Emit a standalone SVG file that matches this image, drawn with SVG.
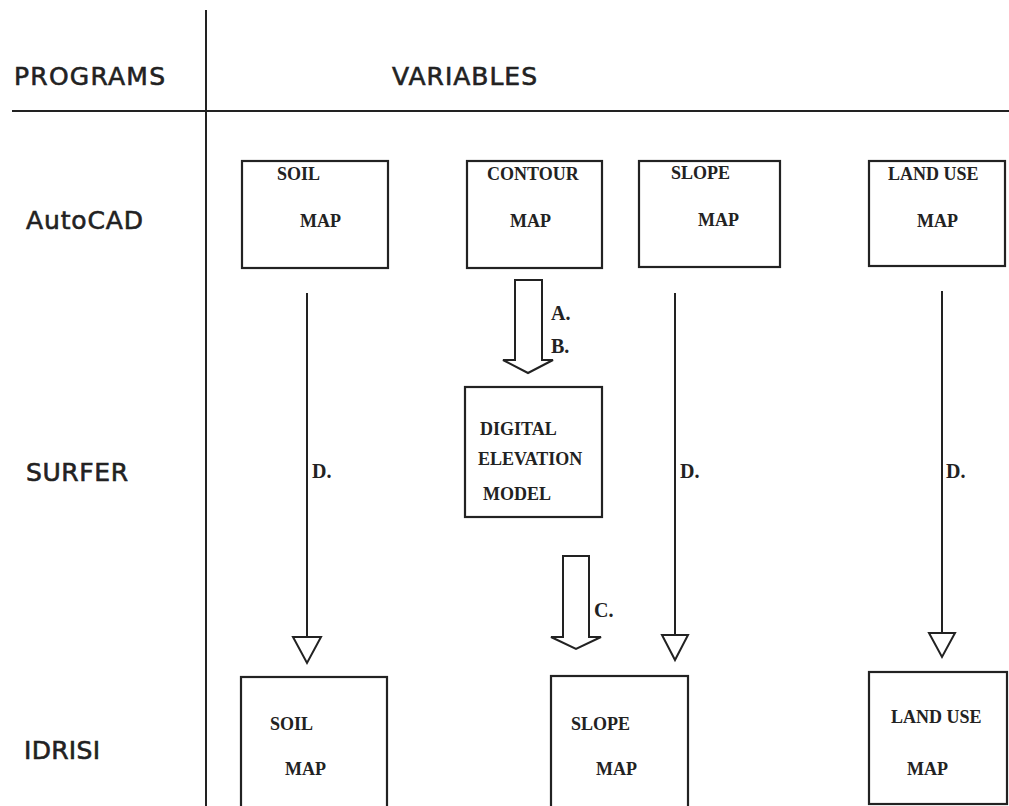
<svg xmlns="http://www.w3.org/2000/svg" width="1009" height="806" viewBox="0 0 1009 806">
<style>
.ln{stroke:#222;stroke-width:2;fill:none}
.box{stroke:#222;stroke-width:2.2;fill:#fff}
.hd{font-family:"DejaVu Sans","Liberation Sans",sans-serif;font-size:25px;fill:#222;stroke:#222;stroke-width:0.6}
.bt{font-family:"Liberation Serif","DejaVu Serif",serif;font-size:18px;font-weight:bold;fill:#222}
.lb{font-family:"Liberation Serif","DejaVu Serif",serif;font-size:20px;font-weight:bold;fill:#222}
.tri{stroke:#222;stroke-width:2;fill:#fff;stroke-linejoin:miter}
</style>
<rect width="1009" height="806" fill="#fff"/>
<g id="grid">
<line class="ln" x1="206" y1="10" x2="206" y2="806"/>
<line class="ln" x1="12" y1="111" x2="1009" y2="111"/>
<text class="hd" x="14" y="85" textLength="151" lengthAdjust="spacing">PROGRAMS</text>
<text class="hd" x="392" y="85" textLength="145" lengthAdjust="spacing">VARIABLES</text>
<text class="hd" x="26" y="229" textLength="117" lengthAdjust="spacing">AutoCAD</text>
<text class="hd" x="26" y="481" textLength="102" lengthAdjust="spacing">SURFER</text>
<text class="hd" x="24" y="759" textLength="76" lengthAdjust="spacing">IDRISI</text>
</g>
<g id="connectors">
<path class="ln" d="M515,280 L542,280 L542,360 L553,360 L528,373 L503,360 L515,360 Z"/>
<text class="lb" x="551" y="320">A.</text>
<text class="lb" x="551" y="353">B.</text>
<path class="ln" d="M563,556 L589,556 L589,637 L601,637 L576,649 L551,637 L563,637 Z"/>
<text class="lb" x="594" y="617">C.</text>
<line class="ln" x1="307" y1="293" x2="307" y2="637"/>
<polygon class="tri" points="293,637 321,637 307,663"/>
<text class="lb" x="312" y="478">D.</text>
<line class="ln" x1="675" y1="293" x2="675" y2="635"/>
<polygon class="tri" points="662,635 688,635 675,660"/>
<text class="lb" x="680" y="478">D.</text>
<line class="ln" x1="942" y1="291" x2="942" y2="633"/>
<polygon class="tri" points="929,633 955,633 942,657"/>
<text class="lb" x="946" y="478">D.</text>
</g>
<g id="soil-autocad">
<rect class="box" x="242" y="161" width="146" height="107"/>
<text class="bt" x="277" y="180">SOIL</text>
<text class="bt" x="300" y="227">MAP</text>
</g>
<g id="contour-autocad">
<rect class="box" x="467" y="161" width="135" height="107"/>
<text class="bt" x="487" y="180">CONTOUR</text>
<text class="bt" x="510" y="227">MAP</text>
</g>
<g id="slope-autocad">
<rect class="box" x="639" y="161" width="141" height="106"/>
<text class="bt" x="671" y="179">SLOPE</text>
<text class="bt" x="698" y="226">MAP</text>
</g>
<g id="landuse-autocad">
<rect class="box" x="869" y="161" width="136" height="105"/>
<text class="bt" x="888" y="180">LAND USE</text>
<text class="bt" x="917" y="227">MAP</text>
</g>
<g id="dem-surfer">
<rect class="box" x="465" y="387" width="137" height="130"/>
<text class="bt" x="480" y="435">DIGITAL</text>
<text class="bt" x="478" y="465">ELEVATION</text>
<text class="bt" x="483" y="500">MODEL</text>
</g>
<g id="soil-idrisi">
<rect class="box" x="241" y="677" width="146" height="140"/>
<text class="bt" x="270" y="730">SOIL</text>
<text class="bt" x="285" y="775">MAP</text>
</g>
<g id="slope-idrisi">
<rect class="box" x="551" y="676" width="137" height="140"/>
<text class="bt" x="571" y="730">SLOPE</text>
<text class="bt" x="596" y="775">MAP</text>
</g>
<g id="landuse-idrisi">
<rect class="box" x="869" y="672" width="138" height="132"/>
<text class="bt" x="891" y="723">LAND USE</text>
<text class="bt" x="907" y="775">MAP</text>
</g>
</svg>
